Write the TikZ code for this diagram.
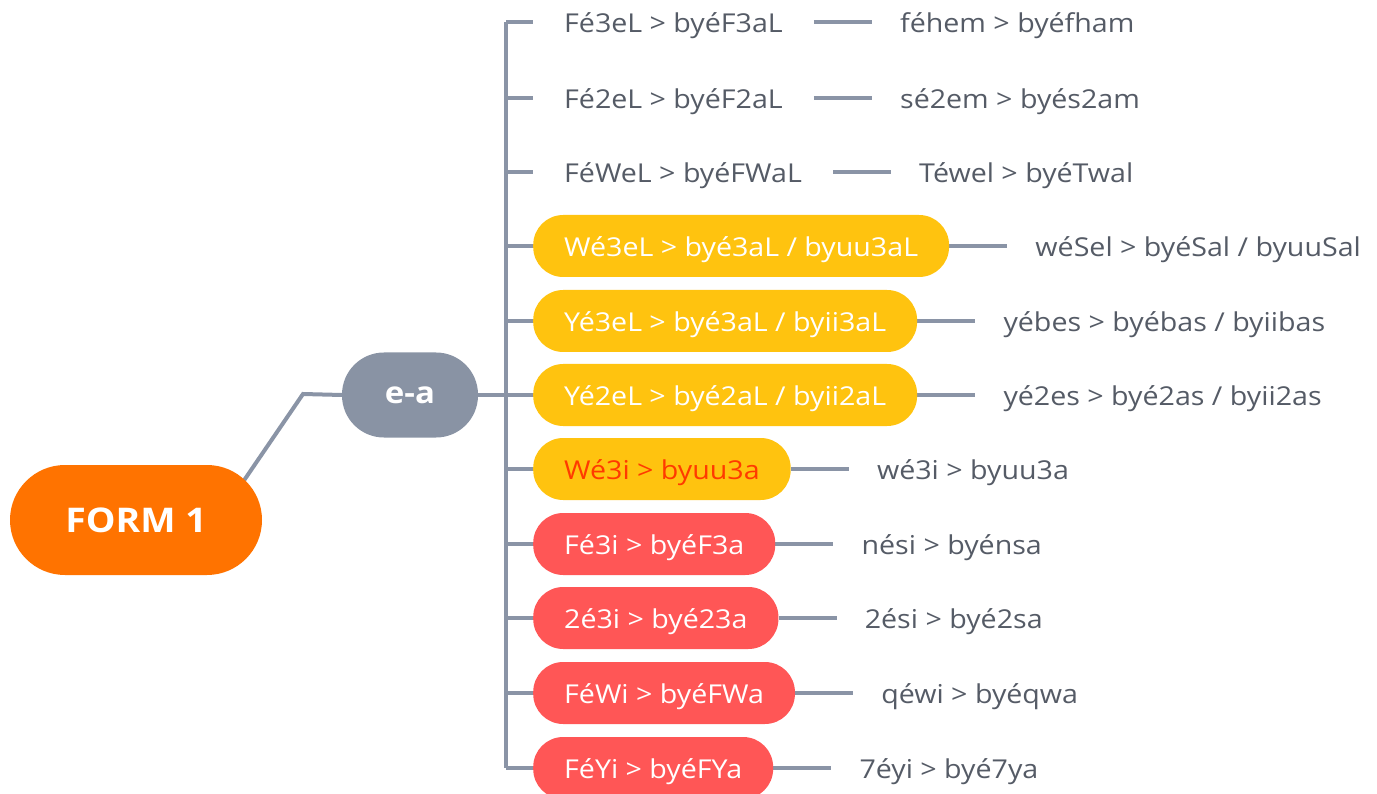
\documentclass[tikz,border=0pt]{standalone}
\usepackage{fontspec}
\setmainfont{Open Sans}[FakeStretch=1.1]
\usepackage{tikz}
\usepackage{xcolor}
\usetikzlibrary{positioning, backgrounds}

\definecolor{linegrey}{HTML}{8A94A6}
\definecolor{textgrey}{HTML}{555B66}
\definecolor{formorange}{HTML}{FF7300}
\definecolor{rootgrey}{HTML}{8993A4}
\definecolor{boxyellow}{HTML}{FFC30F}
\definecolor{boxred}{HTML}{FF5656}
\definecolor{redtext}{HTML}{FF3A00}

\tikzset{
    link/.style={draw=linegrey, line width=4pt},
    plain/.style={anchor=west, inner xsep=31pt, inner ysep=0pt, text=textgrey,
        text height=27pt, text depth=6.5pt, font=\fontsize{26}{30}\selectfont},
    pill/.style={plain, rounded corners=30pt, minimum height=62pt, text=white},
    yellowpill/.style={pill, fill=boxyellow},
    redpill/.style={pill, fill=boxred},
    example/.style={plain, inner xsep=28pt},
}

\begin{document}
\begin{tikzpicture}[x=1pt, y=-1pt]
        \useasboundingbox (0,0) rectangle (1377,794);

        \node[fill=formorange, rounded corners=55pt, minimum width=252pt, minimum height=110pt,
            text=white, font=\bfseries\fontsize{34}{40}\selectfont] (form) at (136, 520) {FORM 1};
        \node[fill=rootgrey, rounded corners=42pt, minimum width=136pt, minimum height=85pt,
            text=white, font=\bfseries\fontsize{30}{34}\selectfont] (ea) at (410, 395) {e-a};

        \coordinate (formjoin) at (217, 520);
        \coordinate (bend) at (303, 394);
        \coordinate (t1) at (506, 22);
        \coordinate (t11) at (506, 768);

        \node[plain] (a1) at (533, 22) {Fé3eL > byéF3aL};
        \node[plain] (a2) at (533, 98) {Fé2eL > byéF2aL};
        \node[plain] (a3) at (533, 172) {FéWeL > byéFWaL};
        \node[yellowpill] (a4) at (533, 246) {Wé3eL > byé3aL / byuu3aL};
        \node[yellowpill] (a5) at (533, 321) {Yé3eL > byé3aL / byii3aL};
        \node[yellowpill] (a6) at (533, 395) {Yé2eL > byé2aL / byii2aL};
        \node[yellowpill, text=redtext] (a7) at (533, 469) {Wé3i > byuu3a};
        \node[redpill] (a8) at (533, 544) {Fé3i > byéF3a};
        \node[redpill] (a9) at (533, 618) {2é3i > byé23a};
        \node[redpill] (a10) at (533, 693) {FéWi > byéFWa};
        \node[redpill] (a11) at (533, 768) {FéYi > byéFYa};

        \node[example, right=58pt of a1] (b1) {féhem > byéfham};
        \node[example, right=58pt of a2] (b2) {sé2em > byés2am};
        \node[example, right=58pt of a3] (b3) {Téwel > byéTwal};
        \node[example, right=58pt of a4] (b4) {wéSel > byéSal / byuuSal};
        \node[example, right=58pt of a5] (b5) {yébes > byébas / byiibas};
        \node[example, right=58pt of a6] (b6) {yé2es > byé2as / byii2as};
        \node[example, right=58pt of a7] (b7) {wé3i > byuu3a};
        \node[example, right=58pt of a8] (b8) {nési > byénsa};
        \node[example, right=58pt of a9] (b9) {2ési > byé2sa};
        \node[example, right=58pt of a10] (b10) {qéwi > byéqwa};
        \node[example, right=58pt of a11] (b11) {7éyi > byé7ya};

        \begin{scope}[on background layer]
            \draw[link] (formjoin) -- (bend) -- (ea.west);
            \draw[link] (ea.east) -- (ea.east -| t1);
            \draw[link] (t1) -- (t11);
            \draw[link] (a1.west -| t1) -- (a1.west)
                (a2.west -| t1) -- (a2.west)
                (a3.west -| t1) -- (a3.west)
                (a4.west -| t1) -- (a4.west)
                (a5.west -| t1) -- (a5.west)
                (a6.west -| t1) -- (a6.west)
                (a7.west -| t1) -- (a7.west)
                (a8.west -| t1) -- (a8.west)
                (a9.west -| t1) -- (a9.west)
                (a10.west -| t1) -- (a10.west)
                (a11.west -| t1) -- (a11.west);
            \draw[link] (a1) -- (b1)
                (a2) -- (b2)
                (a3) -- (b3)
                (a4) -- (b4)
                (a5) -- (b5)
                (a6) -- (b6)
                (a7) -- (b7)
                (a8) -- (b8)
                (a9) -- (b9)
                (a10) -- (b10)
                (a11) -- (b11);
        \end{scope}
    \end{tikzpicture}
\end{document}
